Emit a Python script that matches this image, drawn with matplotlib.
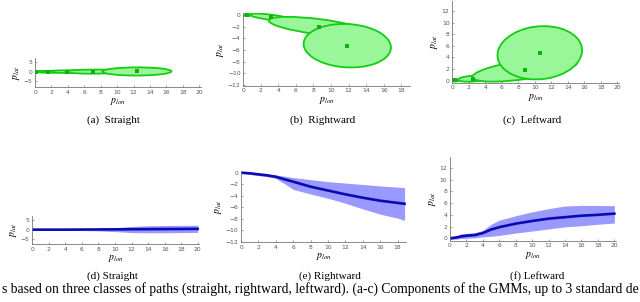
import matplotlib
matplotlib.use('Agg')
import matplotlib.pyplot as plt
from matplotlib.patches import Ellipse

W, H = 640, 302

# ---- GMM components (mean x, mean y, 3-sigma semi axes, angle in deg) ----
a_mx = [0.1, 1.6, 3.9, 7.1, 12.4]
a_my = [0.0, 0.0, 0.05, 0.05, 0.15]
a_sa = [0.4, 1.6, 2.4, 3.4, 4.2]
a_sb = [0.3, 0.5, 0.7, 1.1, 2.2]
a_ang = [0, 0, 0, 1, 1]

b_mx = [0.4, 3.2, 8.6, 11.85]
b_my = [0.0, -0.4, -2.0, -5.25]
b_sa = [0.5, 2.5, 5.8, 5.0]
b_sb = [0.15, 0.45, 1.3, 3.7]
b_ang = [0, -11, -11, -8]

c_mx = [0.3, 2.5, 8.8, 10.6]
c_my = [0.05, 0.35, 1.9, 4.8]
c_sa = [0.5, 1.8, 6.5, 5.2]
c_sb = [0.18, 0.5, 1.6, 4.5]
c_ang = [0, 6, 12, 20]

# ---- mean path with band ----
d_x = [0, 2, 4, 6, 8, 10, 12, 14, 16, 18, 20]
d_mean = [0.0, 0.0, 0.0, 0.05, 0.1, 0.15, 0.2, 0.25, 0.3, 0.35, 0.4]
d_up = [0.3, 0.3, 0.35, 0.5, 0.7, 1.0, 1.6, 2.0, 2.1, 2.2, 2.2]
d_lo = [-0.3, -0.3, -0.35, -0.45, -0.6, -1.0, -1.5, -1.6, -1.6, -1.5, -1.4]

e_x = [0, 1, 2, 3, 4, 5, 6, 8, 10, 12, 14, 16, 18, 18.8]
e_mean = [0.0, -0.1, -0.28, -0.45, -0.7, -1.15, -1.56, -2.43, -3.1, -3.76, -4.35, -4.87, -5.25, -5.4]
e_up = [0.1, 0.1, -0.1, -0.25, -0.4, -0.6, -0.85, -1.2, -1.55, -1.8, -2.05, -2.3, -2.5, -2.6]
e_lo = [-0.1, -0.3, -0.5, -0.7, -1.0, -1.9, -2.9, -3.7, -4.45, -5.3, -6.3, -7.2, -7.9, -8.3]

f_x = [0, 1, 1.2, 2, 3, 4, 5, 6, 8, 10, 12, 14, 16, 18, 20]
f_mean = [0.0, 0.2, 0.3, 0.45, 0.55, 0.9, 1.5, 1.9, 2.5, 2.95, 3.35, 3.6, 3.85, 4.0, 4.2]
f_up = [0.1, 0.3, 0.7, 0.85, 0.95, 1.35, 2.4, 3.1, 3.85, 4.5, 5.05, 5.5, 5.6, 5.6, 5.55]
f_lo = [-0.2, -0.1, -0.05, 0.0, 0.1, 0.25, 0.35, 0.5, 0.9, 1.25, 1.6, 1.95, 2.15, 2.4, 2.6]

captions_top = ['(a)  Straight', '(b)  Rightward', '(c)  Leftward']
captions_bot = ['(d) Straight', '(e) Rightward', '(f) Leftward']
caption_line = ('s based on three classes of paths (straight, rightward, leftward). '
                '(a-c) Components of the GMMs, up to 3 standard de')

plt.rcParams['mathtext.fontset'] = 'stix'

fig = plt.figure(figsize=(W / 100, H / 100), dpi=100)


def px_axes(left, right, top, bottom):
    return fig.add_axes([left / W, 1 - bottom / H, (right - left) / W, (bottom - top) / H])


def style(ax, xlim, ylim, xt, yt):
    ax.set_xlim(*xlim)
    ax.set_ylim(*ylim)
    ax.set_xticks(xt)
    ax.set_yticks(yt)
    for s in ['top', 'right']:
        ax.spines[s].set_visible(False)
    for s in ['left', 'bottom']:
        ax.spines[s].set_color('#777777')
        ax.spines[s].set_linewidth(0.6)
    ax.tick_params(direction='in', length=1.5, width=0.5, colors='#777777',
                   labelsize=4.3, pad=2, labelcolor='#555555')
    ax.set_xlabel('$p_{lon}$', fontsize=7, labelpad=1)
    ax.set_ylabel('$p_{lat}$', fontsize=7, labelpad=1)


def gmm(ax, mx, my, sa, sb, ang):
    for x, y, a, b, t in zip(mx, my, sa, sb, ang):
        ax.add_patch(Ellipse((x, y), 2 * a, 2 * b, angle=t, facecolor='#99f799',
                             edgecolor='#14cc14', lw=1.3, zorder=2))
    ax.plot(mx, my, 's', color='#10b010', ms=2.4, mew=0, zorder=3)


def band(ax, x, mean, up, lo):
    ax.fill_between(x, lo, up, color='#9999ff', lw=0, zorder=1)
    ax.plot(x, mean, color='#0a0ab4', lw=1.9, zorder=2)


ax = px_axes(35, 201, 58, 87.3)
style(ax, (0, 20.2), (-8.4, 7.4), range(0, 21, 2), [-5, 0, 5])
gmm(ax, a_mx, a_my, a_sa, a_sb, a_ang)

ax = px_axes(243.3, 410, 13.3, 85.7)
style(ax, (0, 19), (-12.1, 0.3), range(0, 19, 2), range(-12, 1, 2))
gmm(ax, b_mx, b_my, b_sa, b_sb, b_ang)

ax = px_axes(452.3, 619, 0.5, 82.7)
style(ax, (0, 20.2), (-0.35, 13.8), range(0, 21, 2), range(0, 13, 2))
gmm(ax, c_mx, c_my, c_sa, c_sb, c_ang)

ax = px_axes(32.3, 199.4, 215.7, 244)
style(ax, (0, 20.2), (-7.3, 7.1), range(0, 21, 2), [-5, 0, 5])
band(ax, d_x, d_mean, d_up, d_lo)

ax = px_axes(241, 406.3, 170.7, 242)
style(ax, (0, 19), (-12.05, 0.35), range(0, 19, 2), range(-12, 1, 2))
band(ax, e_x, e_mean, e_up, e_lo)

ax = px_axes(450, 616, 157.2, 240.7)
style(ax, (0, 20.2), (-0.4, 13.8), range(0, 21, 2), range(0, 13, 2))
band(ax, f_x, f_mean, f_up, f_lo)

for cx, t in zip([113, 323, 532], captions_top):
    fig.text(cx / W, 1 - 120 / H, t, ha='center', va='center',
             family='Liberation Serif', fontsize=8)
for cx, t in zip([112, 329.5, 537.5], captions_bot):
    fig.text(cx / W, 1 - 276 / H, t, ha='center', va='center',
             family='Liberation Serif', fontsize=8)
fig.text(320 / W, 1 - 289 / H, caption_line, ha='center', va='center',
         family='Liberation Serif', fontsize=9.8)

fig.savefig('out.png', dpi=100)
